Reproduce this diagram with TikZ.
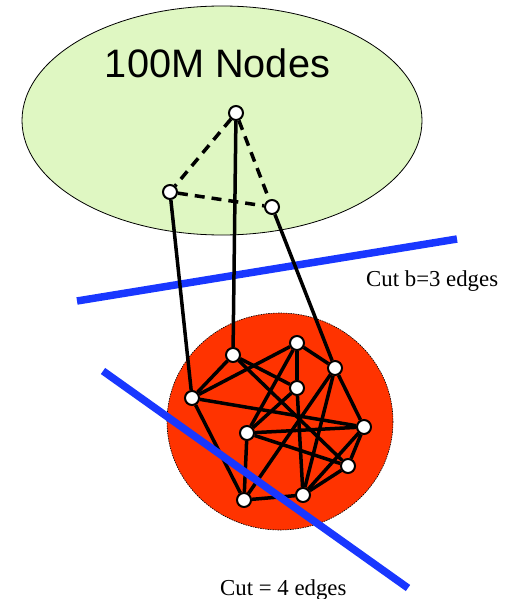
\documentclass[tikz,border=0pt]{standalone}
\usepackage{fontspec}
\setmainfont{Liberation Serif}
\newfontfamily\arialfont{Liberation Sans}
\pgfdeclarelayer{back}
\pgfdeclarelayer{edges}
\pgfsetlayers{back,edges,main}
\definecolor{lightgreen}{RGB}{223,247,194}
\definecolor{redfill}{RGB}{255,51,0}
\definecolor{cutblue}{RGB}{25,55,255}
\tikzset{
  vtx/.style={circle,draw=black,fill=white,line width=2pt,minimum size=14pt,inner sep=0pt},
  edge/.style={line width=3.5pt,black},
  dedge/.style={line width=3.5pt,black,dash pattern=on 10pt off 7pt},
  cutline/.style={line width=7.5pt,cutblue},
  lbl/.style={font=\fontsize{22.8}{26}\selectfont,inner sep=0pt}
}
\begin{document}
\begin{tikzpicture}[x=1pt,y=-1pt]
\useasboundingbox (0,0) rectangle (518,599);
% nodes
\node[vtx] (T) at (236,113) {};
\node[vtx] (L) at (170,192) {};
\node[vtx] (R) at (272,207) {};
\node[vtx] (A) at (233,355) {};
\node[vtx] (B) at (297,343) {};
\node[vtx] (C) at (335,368) {};
\node[vtx] (D) at (192,398) {};
\node[vtx] (E) at (297,388) {};
\node[vtx] (F) at (247,433) {};
\node[vtx] (G) at (364,427) {};
\node[vtx] (H) at (348,466) {};
\node[vtx] (I) at (244,500) {};
\node[vtx] (J) at (303,495) {};
% background shapes
\begin{pgfonlayer}{back}
  \fill[lightgreen,draw=black,line width=0.8pt] (222,120.5) ellipse [x radius=200, y radius=114.5];
  \fill[redfill,draw=black,line width=0.6pt,dash pattern=on 1.5pt off 1pt] (280,421.5) ellipse [x radius=113, y radius=108.5];
  \coordinate (c1a) at (77,301);
  \coordinate (c1b) at (457,239);
  \draw[cutline] (c1a) -- (c1b);
\end{pgfonlayer}
% edges
\begin{pgfonlayer}{edges}
  \draw[dedge] (T) -- (L);
  \draw[dedge] (T) -- (R);
  \draw[dedge] (L) -- (R);
  \draw[edge] (T) -- (A);
  \draw[edge] (L) -- (D);
  \draw[edge] (R) -- (C);
  \draw[edge] (A) -- (D);
  \draw[edge] (D) -- (B);
  \draw[edge] (A) -- (E);
  \draw[edge] (A) -- (H);
  \draw[edge] (B) -- (C);
  \draw[edge] (B) -- (E);
  \draw[edge] (B) -- (F);
  \draw[edge] (E) -- (F);
  \draw[edge] (E) -- (J);
  \draw[edge] (C) -- (G);
  \draw[edge] (C) -- (I);
  \draw[edge] (C) -- (J);
  \draw[edge] (D) -- (G);
  \draw[edge] (D) -- (I);
  \draw[edge] (F) -- (G);
  \draw[edge] (F) -- (H);
  \draw[edge] (F) -- (I);
  \draw[edge] (G) -- (J);
  \draw[edge] (G) -- (H);
  \draw[edge] (H) -- (J);
  \draw[edge] (I) -- (J);
\end{pgfonlayer}
% second cut line on top
\coordinate (c2a) at (103,371);
\coordinate (c2b) at (408,588);
\draw[cutline] (c2a) -- (c2b);
% labels
\node[anchor=base,inner sep=0pt,font=\arialfont\fontsize{39.7}{44}\selectfont] (title) at (217.5,78) {100M Nodes};
\node[lbl,anchor=base west] (cutb) at (366,286) {Cut b=3 edges};
\node[lbl,anchor=base west] (cut4) at (220,595) {Cut = 4 edges};
\end{tikzpicture}
\end{document}
